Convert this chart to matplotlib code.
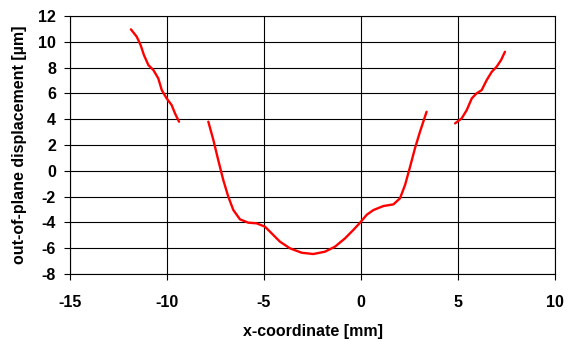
import matplotlib
matplotlib.use("Agg")
import matplotlib.pyplot as plt

# Segment 1 (left)
x1 = [-11.86, -11.56, -11.36, -11.19, -10.96, -10.70, -10.45, -10.27, -10.02, -9.76, -9.59, -9.38]
y1 = [10.97, 10.40, 9.75, 8.98, 8.20, 7.81, 7.17, 6.26, 5.62, 5.10, 4.46, 3.81]

# Segment 2 (middle)
x2 = [-7.87, -7.61, -7.36, -7.10, -6.84, -6.58, -6.24, -5.81, -5.38, -4.95, -4.69,
      -4.18, -3.66, -3.06, -2.46, -1.86, -1.34, -0.82, -0.40, -0.05, 0.30, 0.64,
      1.15, 1.67, 2.01, 2.27, 2.53, 2.78, 3.04, 3.38]
y2 = [3.81, 2.39, 0.84, -0.71, -2.01, -3.04, -3.76, -4.02, -4.07, -4.33, -4.72,
      -5.49, -6.01, -6.35, -6.45, -6.27, -5.88, -5.23, -4.59, -4.02, -3.40, -3.04,
      -2.73, -2.60, -2.13, -1.10, 0.32, 1.74, 3.03, 4.58]

# Segment 3 (right)
x3 = [4.85, 5.19, 5.45, 5.71, 5.96, 6.22, 6.48, 6.74, 6.99, 7.22, 7.42]
y3 = [3.68, 4.07, 4.71, 5.62, 6.01, 6.26, 7.04, 7.68, 8.07, 8.59, 9.23]

xticks = [-15, -10, -5, 0, 5, 10]
yticks = [-8, -6, -4, -2, 0, 2, 4, 6, 8, 10, 12]

plt.rcParams['font.family'] = ['Liberation Sans', 'DejaVu Sans']
plt.rcParams['font.weight'] = 'bold'
plt.rcParams['axes.unicode_minus'] = False

fig = plt.figure(figsize=(5.7, 3.42), dpi=100)
ax = fig.add_axes([0.1228, 0.1988, 0.8509, 0.7542])

for xs, ys in [(x1, y1), (x2, y2), (x3, y3)]:
    ax.plot(xs, ys, color='#ff0000', lw=1.7, solid_capstyle='round',
            solid_joinstyle='round')

ax.set_xlim(-15, 10)
ax.set_ylim(-8, 12)
ax.set_xticks(xticks)
ax.set_yticks(yticks)
ax.grid(True, color='black', lw=0.8)
ax.set_axisbelow(True)
for s in ax.spines.values():
    s.set_color('black')
    s.set_linewidth(0.8)
ax.tick_params(direction='out', length=4, width=0.8, labelsize=11.5)
ax.tick_params(axis='x', pad=11)
ax.tick_params(axis='y', pad=6)
for lab in ax.get_xticklabels() + ax.get_yticklabels():
    lab.set_fontweight('bold')
ax.set_xlabel('x-coordinate [mm]', fontsize=11.5, fontweight='bold', labelpad=10)
ax.set_ylabel('out-of-plane displacement [µm]', fontsize=11.5, fontweight='bold', labelpad=8)

fig.savefig('out.png', dpi=100)
